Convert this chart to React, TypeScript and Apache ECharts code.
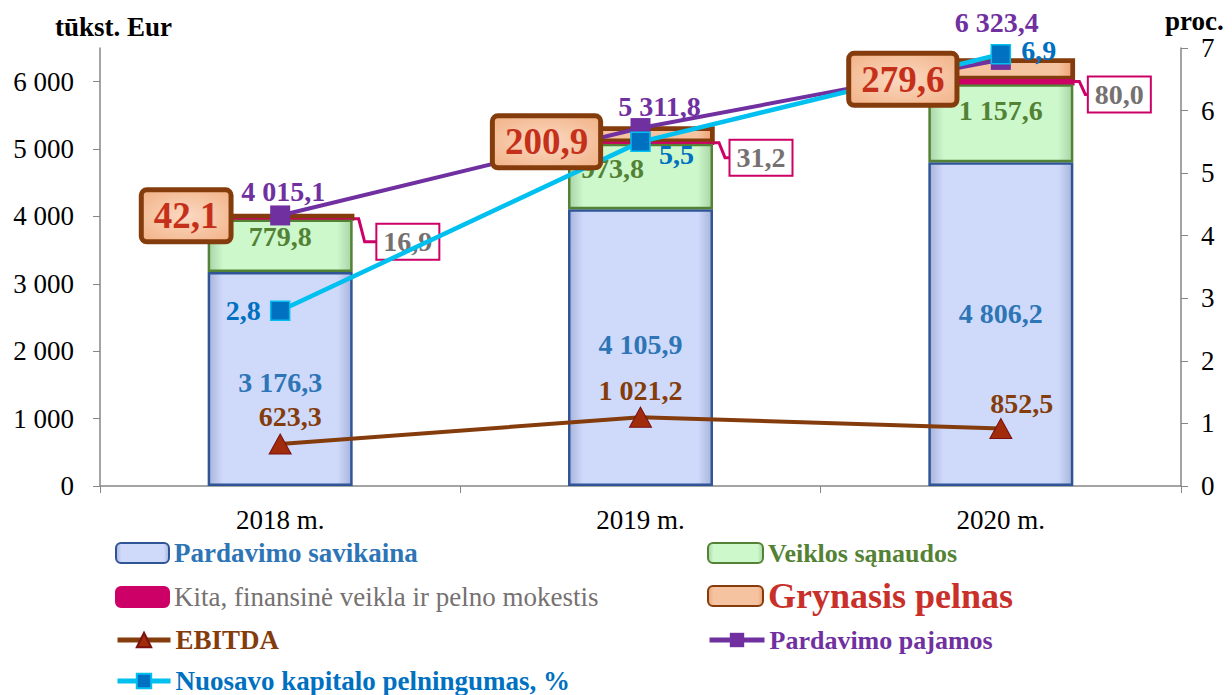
import React, { useEffect, useRef } from 'react';
import * as echarts from 'echarts';

const categories = ['2018 m.', '2019 m.', '2020 m.'];
const savikaina = [3176.3, 4105.9, 4806.2];
const veiklos = [779.8, 973.8, 1157.6];
const kita = [16.9, 31.2, 80.0];
const pelnas = [42.1, 200.9, 279.6];
const ebitda = [623.3, 1021.2, 852.5];
const pajamos = [4015.1, 5311.8, 6323.4];
const roe = [2.8, 5.5, 6.9];

const NAMES = {
  sav: 'Pardavimo savikaina',
  veik: 'Veiklos sąnaudos',
  kita: 'Kita, finansinė veikla ir pelno mokestis',
  peln: 'Grynasis pelnas',
  ebitda: 'EBITDA',
  paj: 'Pardavimo pajamos',
  roe: 'Nuosavo kapitalo pelningumas, %',
};

const FONT = '"Liberation Serif", "Times New Roman", serif';
const BAR_W = 145;

const fmt = (v: number, d = 1) => {
  const s = v.toFixed(d);
  const parts = s.split('.');
  const ii = parts[0].replace(/\B(?=(\d{3})+(?!\d))/g, ' ');
  return parts[1] ? ii + ',' + parts[1] : ii;
};

const hGrad = (edge: string, mid: string) =>
  new echarts.graphic.LinearGradient(0, 0, 1, 0, [
    { offset: 0, color: edge },
    { offset: 0.1, color: mid },
    { offset: 0.9, color: mid },
    { offset: 1, color: edge },
  ]);

// label offsets (layout only)
const savOff = [[0, 4], [0, -3], [0, -11]];
const veikOff = [[0, -9], [-28, -8], [0, -13]];
const kitaOff = [[55, 23], [48, 15], [46, 13]];
const pelnOff = [[-94, -1], [-94, 7], [-98, 10]];
const ebOff = [[10, -27], [0, -27], [21, -25]];
const pajOff = [[3, -24], [19, -22], [-4, -37]];
const roeOff = [[-37, 0], [36, 13], [38, -4]];

export default function App() {
  const ref = useRef<HTMLDivElement>(null);
  useEffect(() => {
    document.body.style.margin = '0';
    const chart = echarts.init(ref.current!, undefined, { renderer: 'svg' });

    const valLabel = (color: string, size = 28) => ({
      color,
      fontFamily: FONT,
      fontWeight: 'bold' as const,
      fontSize: size,
    });

    const kitaBase = kita.map((v, i) => savikaina[i] + veiklos[i]);
    const kitaMid = kita.map((v, i) => kitaBase[i] + v / 2);
    const pelnBase = pelnas.map((v, i) => kitaBase[i] + kita[i]);
    const pelnMid = pelnas.map((v, i) => pelnBase[i] + v / 2);

    const legendDefs = [
      { name: NAMES.sav, left: 115, cy: 553, color: '#2e75b6', size: 27, weight: 'bold', w: 53, h: 20 },
      { name: NAMES.kita, left: 115, cy: 597, color: '#767171', size: 27, weight: 'normal', w: 53, h: 20 },
      { name: NAMES.ebitda, left: 115, cy: 640, color: '#843c0c', size: 27, weight: 'bold', w: 53, h: 18 },
      { name: NAMES.roe, left: 115, cy: 681, color: '#0070c0', size: 27, weight: 'bold', w: 53, h: 18 },
      { name: NAMES.veik, left: 707, cy: 553, color: '#548235', size: 26, weight: 'bold', w: 55, h: 20 },
      { name: NAMES.peln, left: 707, cy: 596, color: '#c9302a', size: 36, weight: 'bold', w: 55, h: 20 },
      { name: NAMES.paj, left: 707, cy: 640, color: '#7030a0', size: 26, weight: 'bold', w: 55, h: 18 },
    ];

    const segOutline = (name: string, base: number[], vals: number[], stroke: string, lw: number) => ({
      name,
      type: 'custom',
      z: 2,
      silent: true,
      data: vals.map((v, i) => [i, base[i], base[i] + v]),
      renderItem: (params: any, api: any) => {
        const p0 = api.coord([api.value(0), api.value(1)]);
        const p1 = api.coord([api.value(0), api.value(2)]);
        return {
          type: 'rect',
          shape: { x: p0[0] - BAR_W / 2, y: p1[1], width: BAR_W, height: p0[1] - p1[1] },
          style: { stroke, lineWidth: lw, fill: null },
        };
      },
    });

    const option: any = {
      animation: false,
      textStyle: { fontFamily: FONT },
      grid: { left: 100, right: 51, top: 48, bottom: 209 },
      legend: legendDefs.map((d) => ({
        left: d.left,
        top: d.cy - Math.max(d.h, d.size) / 2,
        padding: 0,
        itemWidth: d.w,
        itemHeight: d.h,
        itemGap: 6,
        selectedMode: false,
        lineStyle: { width: 5 },
        data: [
          {
            name: d.name,
            textStyle: { color: d.color, fontSize: d.size, fontWeight: d.weight, fontFamily: FONT },
          },
        ],
      })),
      graphic: [
        { type: 'text', left: 55, top: 13, style: { text: 'tūkst. Eur', font: `bold 27px ${FONT}`, fill: '#000' } },
        { type: 'text', left: 1165, top: 7, style: { text: 'proc.', font: `bold 27px ${FONT}`, fill: '#000' } },
      ],
      xAxis: {
        type: 'category',
        data: categories,
        axisLine: { lineStyle: { color: '#868686', width: 1.5 } },
        axisTick: { show: true, length: 7, lineStyle: { color: '#868686' } },
        axisLabel: { color: '#000', fontSize: 27, fontFamily: FONT, margin: 20 },
      },
      yAxis: [
        {
          type: 'value',
          min: 0,
          max: 6500,
          interval: 1000,
          axisLine: { show: true, lineStyle: { color: '#868686', width: 1.5 } },
          axisTick: { show: true, length: 7, lineStyle: { color: '#868686' } },
          splitLine: { show: false },
          axisLabel: {
            color: '#000',
            fontSize: 27,
            fontFamily: FONT,
            margin: 26,
            showMaxLabel: false,
            formatter: (v: number) => (v > 6000 ? '' : fmt(v, 0)),
          },
        },
        {
          type: 'value',
          position: 'right',
          min: 0,
          max: 7,
          interval: 1,
          axisLine: { show: true, lineStyle: { color: '#868686', width: 1.5 } },
          axisTick: { show: true, length: 7, lineStyle: { color: '#868686' } },
          splitLine: { show: false },
          axisLabel: { color: '#000', fontSize: 27, fontFamily: FONT, margin: 20 },
        },
      ],
      series: [
        {
          name: NAMES.sav,
          type: 'bar',
          stack: 'a',
          barWidth: BAR_W,
          itemStyle: { color: hGrad('#a9b4dc', '#cfdafb'), borderColor: '#2f5597', borderWidth: 2.5 },
          label: { show: true, position: 'inside', ...valLabel('#2e75b6'), formatter: (p: any) => fmt(p.value) },
          data: savikaina.map((v, i) => ({ value: v, label: { offset: savOff[i] } })),
        },
        {
          name: NAMES.veik,
          type: 'bar',
          stack: 'a',
          barWidth: BAR_W,
          itemStyle: { color: hGrad('#a8d4a8', '#ccf8cc'), borderColor: '#548235', borderWidth: 2.5 },
          label: { show: true, position: 'inside', ...valLabel('#548235'), formatter: (p: any) => fmt(p.value) },
          data: veiklos.map((v, i) => ({ value: v, label: { offset: veikOff[i] } })),
        },
        {
          name: NAMES.kita,
          type: 'bar',
          stack: 'a',
          barWidth: BAR_W,
          itemStyle: { color: '#cc0066', borderColor: '#cc0066', borderWidth: 1.5 },
          label: {
            show: true,
            position: ['100%', '50%'],
            align: 'center',
            verticalAlign: 'middle',
            ...valLabel('#767171'),
            backgroundColor: '#ffffff',
            borderColor: '#cc0066',
            borderWidth: 2,
            padding: [4, 6, 2, 6],
            formatter: (p: any) => fmt(p.value),
          },
          data: kita.map((v, i) => ({ value: v, label: { offset: kitaOff[i] } })),
        },
        {
          name: NAMES.peln,
          type: 'bar',
          stack: 'a',
          barWidth: BAR_W,
          itemStyle: { color: hGrad('#eea57a', '#f6c3a0'), borderColor: '#843c0c', borderWidth: 3 },
          data: pelnas,
        },
        segOutline('kita-outline', kitaBase, kita, '#cc0066', 2.5),
        segOutline('pelnas-outline', pelnBase, pelnas, '#843c0c', 3.5),
        {
          name: 'kita-leader',
          type: 'custom',
          z: 1,
          silent: true,
          data: kitaMid.map((v, i) => [i, v]),
          renderItem: (params: any, api: any) => {
            const p = api.coord([api.value(0), api.value(1)]);
            const xr = p[0] + BAR_W / 2;
            const dy = kitaOff[params.dataIndex][1];
            const yb = p[1] + dy;
            return {
              type: 'polyline',
              shape: { points: [[xr - 2, p[1]], [xr + 6, p[1]], [xr + 12, yb], [xr + 30, yb]] },
              style: { stroke: '#cc0066', lineWidth: 3, fill: null },
            };
          },
        },
        {
          name: NAMES.ebitda,
          type: 'line',
          data: ebitda.map((v, i) => ({ value: v, label: { offset: ebOff[i] } })),
          symbol: 'triangle',
          symbolSize: [22, 20],
          lineStyle: { color: '#843c0c', width: 4 },
          itemStyle: { color: '#a02c0c', borderColor: '#7a1010', borderWidth: 1 },
          label: { show: true, position: 'inside', ...valLabel('#843c0c'), formatter: (p: any) => fmt(p.value) },
          z: 3,
        },
        {
          name: NAMES.paj,
          type: 'line',
          data: pajamos.map((v, i) => ({ value: v, label: { offset: pajOff[i] } })),
          symbol: 'rect',
          symbolSize: 20,
          lineStyle: { color: '#7030a0', width: 4 },
          itemStyle: { color: '#7030a0' },
          label: { show: true, position: 'inside', ...valLabel('#7030a0'), formatter: (p: any) => fmt(p.value) },
          z: 3,
        },
        {
          name: NAMES.roe,
          type: 'line',
          yAxisIndex: 1,
          data: roe.map((v, i) => ({ value: v, label: { offset: roeOff[i] } })),
          symbol: 'rect',
          symbolSize: 19,
          lineStyle: { color: '#00c0f0', width: 4.5 },
          itemStyle: { color: '#0070c0', borderColor: '#00c0f0', borderWidth: 1.5 },
          label: { show: true, position: 'inside', ...valLabel('#0070c0'), formatter: (p: any) => fmt(p.value) },
          z: 4,
        },
        {
          name: 'pelnas-labels',
          type: 'scatter',
          z: 6,
          silent: true,
          symbolSize: 1,
          itemStyle: { color: 'rgba(0,0,0,0)', opacity: 1 },
          data: pelnMid.map((v, i) => ({ value: [i, v], label: { offset: pelnOff[i] } })),
          label: {
            show: true,
            position: 'inside',
            ...valLabel('#c5301a', 37),
            opacity: 1,
            backgroundColor: new echarts.graphic.RadialGradient(0.5, 0.5, 0.7, [
              { offset: 0, color: '#fbd9c2' },
              { offset: 1, color: '#f2b48a' },
            ]),
            borderColor: '#843c0c',
            borderWidth: 5,
            borderRadius: 3,
            padding: [7, 10, 3, 10],
            formatter: (p: any) => fmt(pelnas[p.dataIndex]),
          },
        },
      ],
    };
    chart.setOption(option);
    return () => chart.dispose();
  }, []);
  return <div ref={ref} style={{ width: 1232, height: 695, position: 'absolute', left: 0, top: 0 }} />;
}
